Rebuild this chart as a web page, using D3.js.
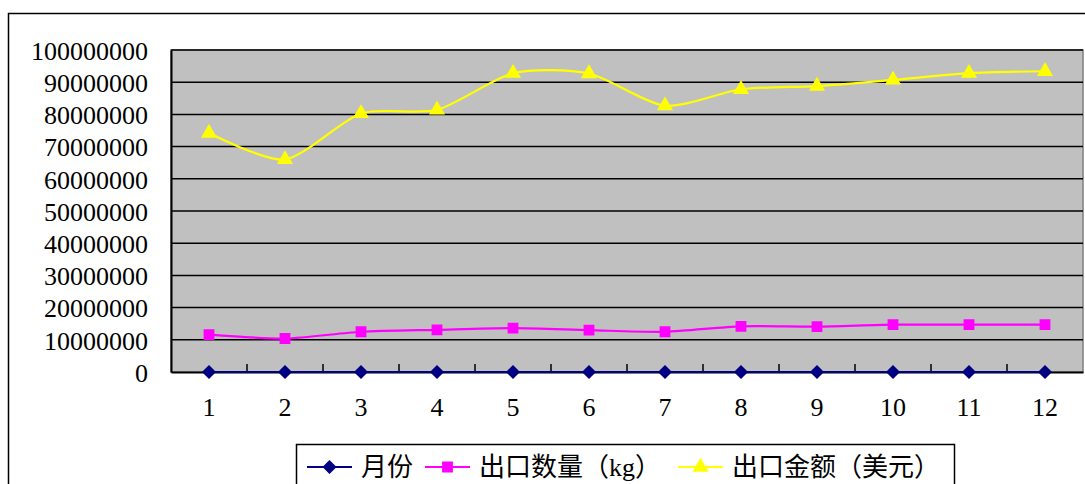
<!DOCTYPE html>
<html>
<head>
<meta charset="utf-8">
<script src="https://cdn.jsdelivr.net/npm/d3@7"></script>
<style>
  html, body { margin: 0; padding: 0; background: #fff; }
  svg { display: block; }
  text { font-family: "Liberation Serif", "Noto Sans CJK SC", serif; fill: #000; }
</style>
</head>
<body>
<svg id="chart" width="1085" height="484"></svg>
<script>
// Monthly export figures
const months = ["1", "2", "3", "4", "5", "6", "7", "8", "9", "10", "11", "12"];
const monthValues = [1, 2, 3, 4, 5, 6, 7, 8, 9, 10, 11, 12];
const quantityKg = [11600000, 10400000, 12500000, 13100000, 13600000, 13000000,
                    12500000, 14200000, 14100000, 14700000, 14700000, 14700000];
const amountUsd = [74200000, 66000000, 80300000, 81400000, 92800000, 92700000,
                   82700000, 87800000, 88800000, 90700000, 92800000, 93400000];
const yTicks = [0, 10000000, 20000000, 30000000, 40000000, 50000000,
                60000000, 70000000, 80000000, 90000000, 100000000];
const seriesNames = ["月份", "出口数量（kg）", "出口金额（美元）"];

const svg = d3.select("#chart");
const plot = { left: 171, top: 50, right: 1083, bottom: 372 };

// outer chart frame
svg.append("rect")
  .attr("x", 8.5).attr("y", 13.5).attr("width", 1100).attr("height", 520)
  .attr("fill", "#fff").attr("stroke", "#000").attr("stroke-width", 1.5);

const x = d3.scaleBand().domain(months).range([plot.left, plot.right]).padding(0);
const y = d3.scaleLinear().domain([0, 100000000]).range([plot.bottom, plot.top]);

// plot area background
svg.append("rect")
  .attr("x", plot.left).attr("y", plot.top)
  .attr("width", plot.right - plot.left).attr("height", plot.bottom - plot.top)
  .attr("fill", "#c0c0c0").attr("stroke", "#808080").attr("stroke-width", 1.5);

// horizontal gridlines
svg.append("g").selectAll("line").data(yTicks.slice(1)).join("line")
  .attr("x1", plot.left).attr("x2", plot.right)
  .attr("y1", d => y(d)).attr("y2", d => y(d))
  .attr("stroke", "#000").attr("stroke-width", 1.5);

// value axis
const yAxis = svg.append("g")
  .attr("transform", `translate(${plot.left},0)`)
  .call(d3.axisLeft(y).tickValues(yTicks).tickFormat(d3.format("d")).tickSize(0).tickPadding(23));
yAxis.select(".domain").attr("stroke", "#000").attr("stroke-width", 2);
yAxis.selectAll("text").attr("font-size", 26)
  .style("font-family", "'Liberation Serif', serif").attr("dy", "0.36em");

// category axis
const xAxis = svg.append("g")
  .attr("transform", `translate(0,${plot.bottom})`)
  .call(d3.axisBottom(x).tickSize(0).tickPadding(26));
xAxis.select(".domain").attr("stroke", "#000").attr("stroke-width", 2);
xAxis.selectAll("text").attr("font-size", 26)
  .style("font-family", "'Liberation Serif', serif");

// inward tick marks between categories
const boundaries = months.slice(1).map(m => x(m));
svg.append("g").selectAll("line").data(boundaries).join("line")
  .attr("x1", d => d).attr("x2", d => d)
  .attr("y1", plot.bottom).attr("y2", plot.bottom - 8)
  .attr("stroke", "#000").attr("stroke-width", 1.5);

const cx = i => x(months[i]) + x.bandwidth() / 2;
const smooth = d3.line().x((d, i) => cx(i)).y(d => y(d)).curve(d3.curveCardinal.tension(0.25));

const series = [
  { name: seriesNames[0], values: monthValues, color: "#000080", symbol: d3.symbolDiamond2, size: 90 },
  { name: seriesNames[1], values: quantityKg, color: "#ff00ff", symbol: d3.symbolSquare2, size: 110 },
  { name: seriesNames[2], values: amountUsd, color: "#ffff00", symbol: d3.symbolTriangle2, size: 130 }
];

function drawMarker(g, s, px, py) {
  g.append("path")
    .attr("d", d3.symbol().type(s.symbol).size(s.size)())
    .attr("transform", `translate(${px},${py})`)
    .attr("fill", s.color).attr("stroke", s.color).attr("stroke-width", 1.5);
}

series.forEach(s => {
  const g = svg.append("g");
  g.append("path").datum(s.values)
    .attr("d", smooth)
    .attr("fill", "none").attr("stroke", s.color).attr("stroke-width", 2.2);
  s.values.forEach((v, i) => drawMarker(g, s, cx(i), y(v)));
});

// legend
const legend = svg.append("g");
legend.append("rect")
  .attr("x", 296.5).attr("y", 444.5).attr("width", 658).attr("height", 60)
  .attr("fill", "#fff").attr("stroke", "#000").attr("stroke-width", 1.5);
const legendX = [307, 425, 678];
series.forEach((s, i) => {
  const lx = legendX[i], ly = 467;
  legend.append("line")
    .attr("x1", lx).attr("x2", lx + 45).attr("y1", ly).attr("y2", ly)
    .attr("stroke", s.color).attr("stroke-width", 2);
  drawMarker(legend, s, lx + 22.5, ly);
  legend.append("text")
    .attr("x", lx + 54).attr("y", ly).attr("dy", "0.36em")
    .attr("font-size", 26)
    .text(s.name);
});
</script>
</body>
</html>
